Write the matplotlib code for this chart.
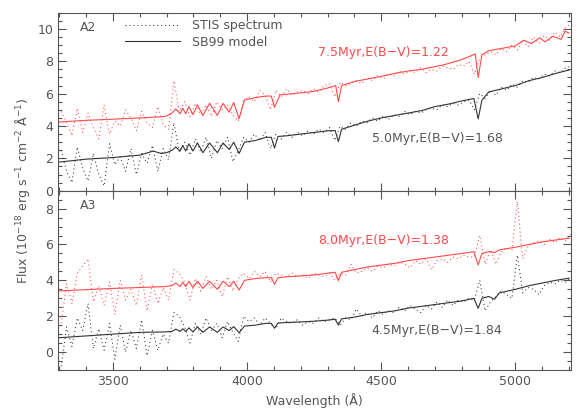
import numpy as np
import matplotlib
matplotlib.use("Agg")
import matplotlib.pyplot as plt
from matplotlib.ticker import MultipleLocator
from matplotlib.lines import Line2D

# observed (STIS) wavelength grid, Angstrom
wave_obs = np.arange(3307, 5208, 20)

# A2 panel
a2_red_obs = [4.9, 4.2, 3.4, 5.1, 3.6, 4.8, 3.9, 3.2, 5.3, 3.5, 4.3, 4.0, 5.0, 4.5, 3.7, 4.9,
              4.2, 3.9, 5.2, 4.1, 3.8, 6.8, 4.9, 5.5, 4.6, 5.4, 4.7, 5.3, 4.6, 5.5, 5.0, 5.3,
              4.7, 4.3, 5.6, 5.8, 5.5, 6.2, 5.9, 5.0, 6.2, 5.8, 6.3, 5.9, 6.1, 6.2, 6.0, 6.3,
              6.1, 6.5, 6.6, 5.8, 6.7, 6.5, 6.6, 6.8, 6.6, 7.0, 6.8, 7.1, 6.9, 7.2, 7.1, 7.4,
              7.2, 7.4, 7.3, 7.6, 7.3, 7.5, 7.4, 7.7, 7.6, 7.5, 7.8, 7.7, 8.0, 7.2, 8.2, 8.4,
              8.6, 8.4, 8.8, 8.6, 9.0, 8.7, 9.3, 8.9, 9.5, 9.1, 9.6, 9.3, 9.8, 9.5, 10.1, 10.3]
a2_blk_obs = [2.5, 1.2, 0.5, 2.7, 1.4, 0.6, 2.3, 1.0, 0.3, 2.9, 1.6, 2.1, 1.2, 2.6, 1.0, 2.3,
              1.7, 2.8, 1.2, 2.6, 1.9, 4.2, 2.4, 3.0, 2.2, 3.2, 2.4, 3.3, 2.0, 3.1, 2.6, 3.3,
              1.8, 2.5, 3.3, 3.0, 3.5, 3.1, 3.6, 2.6, 3.5, 3.2, 3.6, 3.3, 3.6, 3.4, 3.7, 3.5,
              3.8, 3.6, 3.9, 3.1, 4.0, 3.8, 4.2, 4.0, 4.3, 4.2, 4.5, 4.3, 4.6, 4.4, 4.7, 4.6,
              4.9, 4.7, 4.9, 4.8, 5.0, 5.1, 5.0, 5.3, 5.2, 5.4, 5.3, 5.5, 5.6, 5.0, 6.0, 5.7,
              6.2, 5.9, 6.4, 6.2, 6.6, 6.4, 6.8, 6.7, 7.0, 6.9, 7.2, 7.1, 7.4, 7.3, 7.6, 7.7]

wave_a2_red = [3300, 3400, 3500, 3600, 3690, 3700, 3720, 3734, 3750, 3760, 3771, 3783, 3798,
               3815, 3835, 3860, 3889, 3910, 3933, 3950, 3970, 3990, 4030, 4070, 4090, 4102,
               4122, 4200, 4245, 4300, 4330, 4340, 4352, 4400, 4494, 4550, 4600, 4650, 4730,
               4800, 4850, 4861, 4875, 4900, 4950, 5000, 5030, 5060, 5090, 5110, 5140, 5170,
               5185, 5200]
a2_red_mod = [4.25, 4.35, 4.42, 4.5, 4.58, 4.62, 4.8, 5.05, 4.75, 5.1, 4.75, 5.2, 4.7,
              5.3, 4.65, 5.4, 4.65, 5.4, 4.85, 5.45, 4.45, 5.6, 5.75, 5.85, 5.85, 5.15,
              5.92, 6.05, 6.13, 6.35, 6.5, 5.5, 6.5, 6.75, 7.05, 7.25, 7.4, 7.5, 7.77,
              8.1, 8.45, 7.0, 8.4, 8.65, 8.8, 8.95, 9.3, 9.1, 9.45, 9.2, 9.55, 9.35,
              9.85, 9.75]

wave_a2_blk = [3300, 3400, 3500, 3600, 3650, 3680, 3700, 3720, 3734, 3750, 3760, 3771, 3783,
               3798, 3815, 3835, 3860, 3889, 3910, 3933, 3950, 3970, 3990, 4030, 4070, 4090,
               4102, 4115, 4150, 4200, 4250, 4300, 4328, 4340, 4352, 4400, 4450, 4500, 4550,
               4600, 4650, 4700, 4750, 4800, 4845, 4861, 4875, 4900, 4950, 5000, 5050, 5100,
               5150, 5200]
a2_blk_mod = [1.77, 1.95, 2.05, 2.2, 2.45, 2.3, 2.35, 2.5, 2.7, 2.45, 2.8, 2.45, 2.9,
              2.45, 2.95, 2.35, 2.95, 2.35, 2.95, 2.55, 3.0, 2.3, 3.0, 3.1, 3.3, 3.3,
              2.64, 3.35, 3.4, 3.5, 3.6, 3.7, 3.72, 3.04, 3.8, 4.05, 4.3, 4.5, 4.65,
              4.8, 4.95, 5.2, 5.35, 5.55, 5.7, 4.44, 5.6, 6.1, 6.3, 6.5, 6.8, 7.0,
              7.25, 7.46]

# A3 panel
a3_red_obs = [1.6, 3.8, 2.7, 4.4, 4.8, 5.2, 2.8, 3.7, 2.6, 3.9, 2.1, 4.0, 2.9, 3.5, 2.6, 4.3,
              2.3, 3.8, 2.7, 3.6, 2.9, 4.6, 4.4, 3.9, 2.9, 4.1, 3.4, 4.2, 3.5, 4.0, 3.1, 4.2,
              3.4, 4.1, 4.4, 4.1, 4.5, 4.2, 4.5, 3.9, 4.4, 4.3, 4.2, 4.4, 4.2, 4.3, 4.1, 4.4,
              4.3, 4.2, 4.4, 4.0, 4.4, 4.3, 4.9, 4.4, 4.5, 4.7, 4.5, 4.8, 4.7, 4.9, 4.8, 5.0,
              4.9, 4.7, 5.1, 4.9, 5.2, 4.6, 5.1, 5.2, 5.0, 5.3, 5.2, 5.4, 5.3, 5.3, 6.5, 4.9,
              5.7, 4.9, 5.6, 5.8, 5.7, 8.4, 5.2, 5.9, 6.1, 6.2, 6.0, 6.3, 6.1, 6.4, 6.2, 6.6]
a3_blk_obs = [-0.8, 1.4, 0.3, 1.9, 1.2, 2.7, 0.2, 1.3, 0.1, 1.6, -0.4, 1.5, 0.0, 1.2, 0.2, 1.8,
              -0.2, 1.2, 0.1, 1.0, 0.5, 2.2, 2.0, 1.4, 0.5, 1.6, 1.0, 1.9, 1.2, 1.6, 0.8, 1.7,
              1.1, 0.6, 2.0, 1.7, 1.9, 1.5, 1.9, 1.6, 1.3, 1.9, 1.7, 1.6, 1.8, 1.5, 1.7, 1.6,
              1.9, 1.7, 1.8, 1.9, 1.5, 1.9, 1.8, 2.4, 2.0, 2.2, 1.9, 2.3, 2.1, 2.3, 2.2, 2.5,
              2.3, 2.6, 2.4, 2.2, 2.6, 2.4, 2.8, 2.5, 2.9, 2.6, 2.9, 2.8, 3.0, 2.9, 4.0, 2.3,
              2.8, 3.1, 3.4, 3.2, 3.0, 5.4, 3.3, 3.6, 3.5, 3.2, 3.7, 3.9, 3.8, 4.0, 3.9, 4.2]

wave_a3 = [3300, 3400, 3500, 3600, 3690, 3720, 3734, 3750, 3760, 3771, 3783, 3798, 3815,
           3835, 3860, 3889, 3910, 3933, 3950, 3970, 3990, 4030, 4070, 4090, 4102, 4115,
           4150, 4200, 4250, 4300, 4328, 4340, 4352, 4400, 4450, 4500, 4550, 4600, 4650,
           4700, 4750, 4800, 4845, 4861, 4875, 4900, 4922, 4940, 5000, 5050, 5100, 5150,
           5200]
a3_red_mod = [3.41, 3.48, 3.55, 3.6, 3.65, 3.7, 3.85, 3.65, 3.9, 3.65, 3.95, 3.6, 3.95,
              3.55, 3.95, 3.5, 3.95, 3.65, 3.95, 3.46, 4.0, 4.1, 4.15, 4.15, 3.78, 4.15,
              4.2, 4.25, 4.3, 4.4, 4.45, 3.98, 4.45, 4.6, 4.75, 4.85, 4.95, 5.1, 5.2,
              5.3, 5.4, 5.5, 5.6, 4.86, 5.5, 5.6, 5.55, 5.7, 5.85, 6.0, 6.15, 6.25,
              6.35]
a3_blk_mod = [0.8, 0.9, 1.0, 1.1, 1.12, 1.15, 1.28, 1.15, 1.3, 1.15, 1.35, 1.12, 1.4,
              1.1, 1.4, 1.1, 1.4, 1.2, 1.42, 1.08, 1.45, 1.5, 1.6, 1.6, 1.33, 1.62,
              1.65, 1.68, 1.72, 1.78, 1.83, 1.5, 1.85, 1.95, 2.1, 2.2, 2.3, 2.45, 2.55,
              2.65, 2.75, 2.85, 3.0, 2.44, 3.0, 3.1, 2.95, 3.3, 3.5, 3.7, 3.85, 4.0,
              4.12]

red = "#ff4a4a"
blk = "#333333"
txt = "#555555"

plt.rcParams["font.family"] = "DejaVu Sans"
plt.rcParams["axes.edgecolor"] = "#555555"
plt.rcParams["xtick.color"] = "#555555"
plt.rcParams["ytick.color"] = "#555555"
plt.rcParams["xtick.labelcolor"] = txt
plt.rcParams["ytick.labelcolor"] = txt

fig = plt.figure(figsize=(5.81, 4.11), dpi=100)
ax1 = fig.add_axes([0.0998, 0.536, 0.883, 0.433])
ax2 = fig.add_axes([0.0998, 0.0998, 0.883, 0.4362], sharex=ax1)

dots = dict(ls=(0, (1, 2.8)), lw=0.75)

ax1.plot(wave_obs, a2_red_obs, color=red, **dots)
ax1.plot(wave_obs, a2_blk_obs, color=blk, **dots)
ax1.plot(wave_a2_red, a2_red_mod, color=red, lw=0.8)
ax1.plot(wave_a2_blk, a2_blk_mod, color=blk, lw=0.8)

ax2.plot(wave_obs, a3_red_obs, color=red, **dots)
ax2.plot(wave_obs, a3_blk_obs, color=blk, **dots)
ax2.plot(wave_a3, a3_red_mod, color=red, lw=0.8)
ax2.plot(wave_a3, a3_blk_mod, color=blk, lw=0.8)

ax1.set_xlim(3295, 5207)
ax1.set_ylim(0, 11)
ax2.set_ylim(-1, 9)

for ax in (ax1, ax2):
    ax.xaxis.set_major_locator(MultipleLocator(500))
    ax.xaxis.set_minor_locator(MultipleLocator(100))
    ax.yaxis.set_major_locator(MultipleLocator(2))
    ax.yaxis.set_minor_locator(MultipleLocator(0.5))
    ax.tick_params(which="both", direction="in", top=True, right=True, labelsize=9)
    ax.tick_params(which="major", length=6, width=0.8)
    ax.tick_params(which="minor", length=3, width=0.8)
    for s in ax.spines.values():
        s.set_linewidth(0.8)
ax1.tick_params(labelbottom=False)

ax1.text(0.043, 0.915, "A2", transform=ax1.transAxes, fontsize=9, color=txt, va="center")
ax2.text(0.043, 0.92, "A3", transform=ax2.transAxes, fontsize=9, color=txt, va="center")

ax1.text(4263, 8.57, "7.5Myr,E(B\u2212V)=1.22", color=red, fontsize=9, va="center")
ax1.text(4464, 3.2, "5.0Myr,E(B\u2212V)=1.68", color=txt, fontsize=9, va="center")
ax2.text(4263, 6.25, "8.0Myr,E(B\u2212V)=1.38", color=red, fontsize=9, va="center")
ax2.text(4464, 1.23, "4.5Myr,E(B\u2212V)=1.84", color=txt, fontsize=9, va="center")

handles = [Line2D([], [], color=blk, **dots), Line2D([], [], color=blk, lw=0.8)]
leg = ax1.legend(handles, ["STIS spectrum", "SB99 model"], loc="upper left",
                 bbox_to_anchor=(0.13, 0.965), frameon=False, fontsize=9,
                 handlelength=4.4, handletextpad=1.0, labelspacing=0.3,
                 borderpad=0, borderaxespad=0)
for t in leg.get_texts():
    t.set_color(txt)

ax2.set_xlabel("Wavelength (\u00c5)", fontsize=9, color=txt, labelpad=4)
fig.text(0.038, 0.536, "Flux (10$^{-18}$ erg s$^{-1}$ cm$^{-2}$ \u00c5$^{-1}$)",
         rotation=90, ha="center", va="center", fontsize=9, color=txt)

fig.savefig("out.png", dpi=100)
